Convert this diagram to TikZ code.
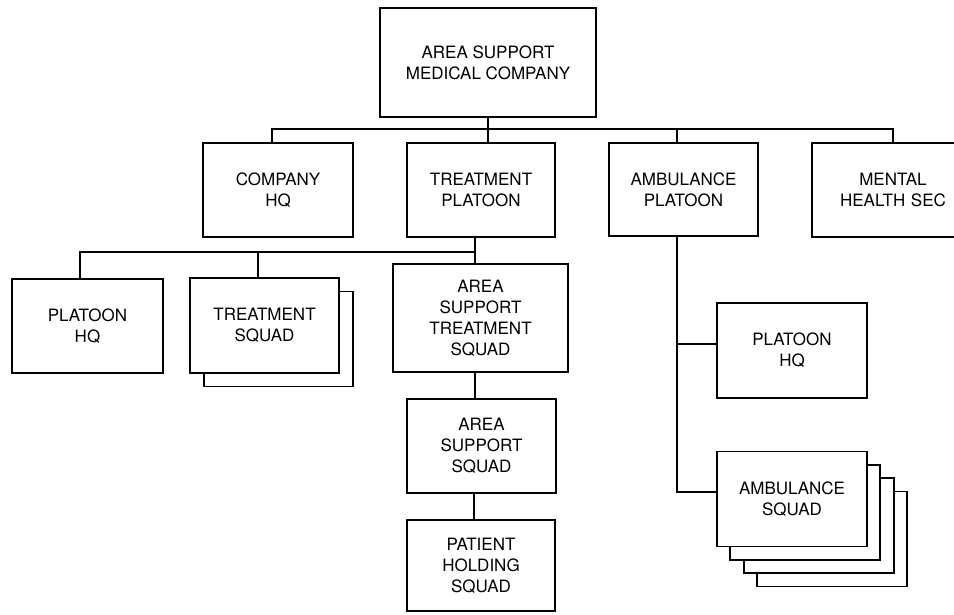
\documentclass[tikz,border=0pt]{standalone}
\usepackage{fontspec}
\setmainfont{TeX Gyre Heros}
\begin{document}
\begin{tikzpicture}[x=1pt,y=-1pt,
  box/.style={draw, line width=1.9pt, fill=white, align=center, inner sep=0pt,
    font=\fontsize{17}{21}\selectfont},
  link/.style={line width=1.9pt}]
\useasboundingbox (0,0) rectangle (954,614);
\fill[white] (0,0) rectangle (954,614);
\clip (0,0) rectangle (954,614);
% level 1
\node[box, minimum width=216pt, minimum height=109pt] (top) at (488,62.5) {AREA SUPPORT\\MEDICAL COMPANY};
% level 2
\node[box, minimum width=150pt, minimum height=94pt] (chq) at (278,190) {COMPANY\\HQ};
\node[box, minimum width=148pt, minimum height=94pt] (tpl) at (481,190) {TREATMENT\\PLATOON};
\node[box, minimum width=149pt, minimum height=93pt] (apl) at (683.5,189.5) {AMBULANCE\\PLATOON};
\node[box, minimum width=162pt, minimum height=94pt, text width=162pt] (mhs) at (893,190) {MENTAL\\HEALTH SEC};
% level 3 (treatment platoon)
\node[box, minimum width=151pt, minimum height=94pt] (phq) at (87.5,326) {PLATOON\\HQ};
\node[box, minimum width=149pt, minimum height=95pt] (tsqb) at (278.5,339) {};
\node[box, minimum width=149pt, minimum height=95pt] (tsq) at (264.5,325.5) {TREATMENT\\SQUAD};
\node[box, minimum width=175pt, minimum height=108pt] (ast) at (480.5,318) {AREA\\SUPPORT\\TREATMENT\\SQUAD};
\node[box, minimum width=149pt, minimum height=94pt] (ass) at (481.5,446) {AREA\\SUPPORT\\SQUAD};
\node[box, minimum width=148pt, minimum height=91pt] (phs) at (481,565.5) {PATIENT\\HOLDING\\SQUAD};
% level 3 (ambulance platoon)
\node[box, minimum width=150pt, minimum height=95pt] (aphq) at (792,350.5) {PLATOON\\HQ};
\node[box, minimum width=150pt, minimum height=95pt] (asq3) at (832,539) {};
\node[box, minimum width=150pt, minimum height=95pt] (asq2) at (818.7,525.7) {};
\node[box, minimum width=150pt, minimum height=95pt] (asq1) at (805.3,512.3) {};
\node[box, minimum width=150pt, minimum height=95pt] (asq) at (792,499) {AMBULANCE\\SQUAD};
% connectors level 1 -> 2
\coordinate (b1) at (488,129);
\draw[link] (top.south) -- (top.south |- tpl.north);
\draw[link] ([xshift=-6pt]chq.north) |- (mhs.north |- b1) -- (mhs.north);
\draw[link] ([xshift=-6.5pt]apl.north) -- ([xshift=-6.5pt]apl.north |- b1);
% connectors treatment platoon
\coordinate (b2) at (475,252);
\draw[link] ([xshift=-6pt]tpl.south) -- ([xshift=-6pt]tpl.south |- ast.north);
\draw[link] ([xshift=-7.5pt]phq.north) |- (b2);
\draw[link] ([xshift=-6.5pt]tsq.north) -- ([xshift=-6.5pt]tsq.north |- b2);
\draw[link] ([xshift=-5.5pt]ast.south) -- ([xshift=-5.5pt]ast.south |- ass.north);
\draw[link] ([xshift=-7.5pt]ass.south) -- ([xshift=-7.5pt]ass.south |- phs.north);
% connectors ambulance platoon
\coordinate (aphqc) at ([yshift=6.5pt]aphq.west);
\draw[link] ([xshift=-6.5pt]apl.south) |- ([yshift=7pt]asq.west);
\draw[link] (aphqc) -- ([xshift=-6.5pt]apl.south |- aphqc);
\end{tikzpicture}
\end{document}
